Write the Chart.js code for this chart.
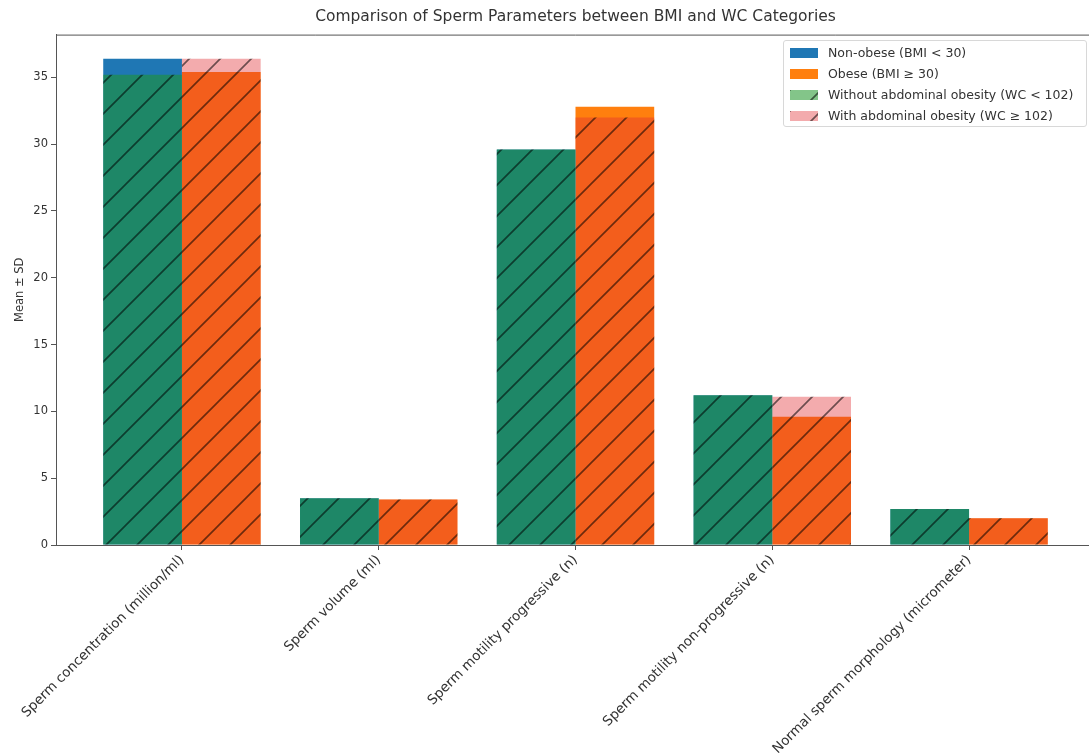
<!DOCTYPE html>
<html>
<head>
<meta charset="utf-8">
<script src="https://cdn.jsdelivr.net/npm/chart.js@4/dist/chart.umd.min.js"></script>
<style>
    html, body { margin: 0; padding: 0; background: #fff; overflow: hidden; }
    #wrap { position: relative; width: 1095px; height: 755px; }
    #legend {
        position: absolute; left: 783px; top: 40px; width: 304px; height: 87px;
        border: 1px solid #d8d8d8; border-radius: 3px; background: rgba(255,255,255,0.85);
        font-family: 'DejaVu Sans', sans-serif; font-size: 12.5px; color: #333;
        box-sizing: border-box; padding-top: 1px;
    }
    .row { display: flex; align-items: center; height: 21px; }
    .row canvas { margin-left: 6px; margin-right: 10px; }
</style>
</head>
<body>
<div id="wrap">
    <canvas id="bmiChart" width="1095" height="755"></canvas>
    <div id="legend"></div>
</div>
<script>
const categories = [
    'Sperm concentration (million/ml)',
    'Sperm volume (ml)',
    'Sperm motility progressive (n)',
    'Sperm motility non-progressive (n)',
    'Normal sperm morphology (micrometer)'
];
const nonObese = [36.4, 3.5, 29.6, 11.2, 2.7];
const obese = [35.4, 3.4, 32.8, 9.6, 2.0];
const withoutAbdominal = [35.2, 3.5, 29.6, 11.2, 2.7];
const withAbdominal = [36.4, 3.4, 32.0, 11.1, 2.0];
const yTicks = [0, 5, 10, 15, 20, 25, 30, 35];

// hatch pattern '/' on top of a see-through fill
function hatch(fill) {
    const s = 31;
    const c = document.createElement('canvas');
    c.width = s; c.height = s;
    const g = c.getContext('2d');
    g.fillStyle = fill;
    g.fillRect(0, 0, s, s);
    g.strokeStyle = 'rgba(0,0,0,0.55)';
    g.lineWidth = 1.7;
    g.beginPath();
    g.moveTo(-2, s + 2); g.lineTo(s + 2, -2);
    g.moveTo(-2, 2); g.lineTo(2, -2);
    g.moveTo(s - 2, s + 2); g.lineTo(s + 2, s - 2);
    g.stroke();
    return g.createPattern(c, 'repeat');
}

const toPoints = arr => arr.map((v, i) => ({ x: i, y: v }));

const series = [
    { label: 'Non-obese (BMI < 30)', data: nonObese, color: '#1f77b4', stack: 'a', order: 2 },
    { label: 'Obese (BMI \u2265 30)', data: obese, color: '#ff7f0e', stack: 'b', order: 2 },
    { label: 'Without abdominal obesity (WC < 102)', data: withoutAbdominal, color: hatch('rgba(30,150,40,0.55)'), stack: 'a', order: 1 },
    { label: 'With abdominal obesity (WC \u2265 102)', data: withAbdominal, color: hatch('rgba(225,45,50,0.4)'), stack: 'b', order: 1 }
];

// top spine
const frame = {
    id: 'frame',
    afterDraw(chart) {
        const a = chart.chartArea, ctx = chart.ctx;
        ctx.save();
        ctx.strokeStyle = '#555';
        ctx.lineWidth = 1;
        ctx.beginPath();
        ctx.moveTo(a.left, a.top + 0.5);
        ctx.lineTo(a.right, a.top + 0.5);
        ctx.stroke();
        ctx.restore();
    }
};

Chart.defaults.font.family = "'DejaVu Sans', sans-serif";
Chart.defaults.color = '#333';

new Chart(document.getElementById('bmiChart').getContext('2d'), {
    type: 'bar',
    data: {
        datasets: series.map(s => ({
            label: s.label,
            data: toPoints(s.data),
            backgroundColor: s.color,
            borderWidth: 0,
            stack: s.stack,
            order: s.order,
            categoryPercentage: 0.8,
            barPercentage: 1.0
        }))
    },
    options: {
        responsive: false,
        animation: false,
        layout: { padding: 0 },
        scales: {
            x: {
                type: 'linear',
                min: -0.64,
                max: 4.64,
                offset: false,
                grid: { drawOnChartArea: false, drawTicks: true, tickLength: 5, color: '#555', offset: false },
                border: { display: true, color: '#555' },
                afterBuildTicks: axis => { axis.ticks = categories.map((c, i) => ({ value: i })); },
                afterFit: axis => { axis.height = 210; },
                ticks: {
                    autoSkip: false,
                    minRotation: 45,
                    maxRotation: 45,
                    padding: 2,
                    font: { size: 13.5 },
                    callback: value => categories[value]
                }
            },
            y: {
                stacked: false,
                min: 0,
                max: 38.2,
                grid: { drawOnChartArea: false, drawTicks: true, tickLength: 5, color: '#555' },
                border: { display: true, color: '#555' },
                afterBuildTicks: axis => { axis.ticks = yTicks.map(v => ({ value: v })); },
                afterFit: axis => { axis.width = 56; },
                ticks: { font: { size: 11.5 }, padding: 3 },
                title: { display: true, text: 'Mean \u00b1 SD', font: { size: 11.5 }, padding: { top: 13, bottom: 4 } }
            }
        },
        plugins: {
            legend: { display: false },
            tooltip: { enabled: false },
            title: {
                display: true,
                fullSize: false,
                text: 'Comparison of Sperm Parameters between BMI and WC Categories',
                color: '#333',
                font: { size: 15.5, weight: 'normal' },
                padding: { top: 8, bottom: 8 }
            }
        }
    },
    plugins: [frame]
});

// legend as html
const legendEl = document.getElementById('legend');
series.forEach(s => {
    const row = document.createElement('div');
    row.className = 'row';
    const sw = document.createElement('canvas');
    sw.width = 28; sw.height = 10;
    const g = sw.getContext('2d');
    g.fillStyle = s.color;
    g.fillRect(0, 0, 28, 10);
    const txt = document.createElement('span');
    txt.textContent = s.label;
    row.appendChild(sw);
    row.appendChild(txt);
    legendEl.appendChild(row);
});
</script>
</body>
</html>
